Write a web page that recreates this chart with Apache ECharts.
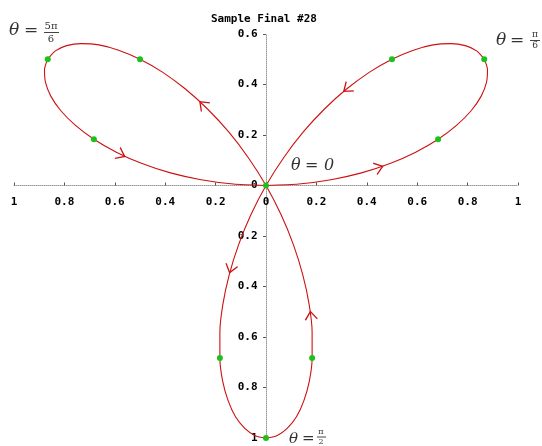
<!DOCTYPE html>
<html>
<head>
<meta charset="utf-8">
<script src="https://cdn.jsdelivr.net/npm/echarts@6/dist/echarts.min.js"></script>
<style>
  html, body { margin: 0; padding: 0; background: #fff; }
  #chart { width: 542px; height: 446px; }
</style>
</head>
<body>
<div id="chart"></div>
<script>
// Three-petal rose traced in 2.5-degree steps of theta: right petal, bottom petal, left petal
const roseX = [
  0, 0.130, 0.258, 0.379, 0.492, 0.594, 0.683, 0.757, 0.814, 0.854, 0.875, 0.879,
  0.866, 0.836, 0.791, 0.733, 0.663, 0.585, 0.5, 0.411, 0.321, 0.233, 0.148, 0.070,
  0, -0.060, -0.109, -0.146, -0.171, -0.183, -0.183, -0.172, -0.150, -0.121, -0.084, -0.043,
  0, 0.043, 0.084, 0.121, 0.150, 0.172, 0.183, 0.183, 0.171, 0.146, 0.109, 0.060,
  0, -0.070, -0.148, -0.233, -0.321, -0.411, -0.5, -0.585, -0.663, -0.733, -0.791, -0.836,
  -0.866, -0.879, -0.875, -0.854, -0.814, -0.757, -0.683, -0.594, -0.492, -0.379, -0.258, -0.130,
  0];
const roseY = [
  0, 0.006, 0.023, 0.050, 0.087, 0.132, 0.183, 0.239, 0.296, 0.354, 0.408, 0.458,
  0.5, 0.533, 0.554, 0.562, 0.557, 0.536, 0.5, 0.449, 0.383, 0.304, 0.212, 0.110,
  0, -0.116, -0.235, -0.354, -0.470, -0.581, -0.683, -0.775, -0.853, -0.916, -0.962, -0.991,
  -1, -0.991, -0.962, -0.916, -0.853, -0.775, -0.683, -0.581, -0.470, -0.354, -0.235, -0.116,
  0, 0.110, 0.212, 0.304, 0.383, 0.449, 0.5, 0.536, 0.557, 0.562, 0.554, 0.533,
  0.5, 0.458, 0.408, 0.354, 0.296, 0.239, 0.183, 0.132, 0.087, 0.050, 0.023, 0.006,
  0];

// Highlighted sample points
const dotX = [0, 0.683, 0.866, 0.5, -0.183, 0, 0.183, -0.5, -0.866, -0.683];
const dotY = [0, 0.183, 0.5, 0.5, -0.683, -1, -0.683, 0.5, 0.5, 0.183];

// Direction markers along the curve: position and heading (degrees)
const arrowX = [0.448, 0.321, -0.251, -0.575, -0.140, 0.178];
const arrowY = [0.071, 0.383, 0.321, 0.122, -0.330, -0.515];
const arrowHeading = [19, 219, 136, -26, -106, 97];

// Tick values; labels show magnitudes
const xTicks = [-1, -0.8, -0.6, -0.4, -0.2, 0, 0.2, 0.4, 0.6, 0.8, 1];
const yTicks = [-1, -0.8, -0.6, -0.4, -0.2, 0, 0.2, 0.4, 0.6];

const chart = echarts.init(document.getElementById('chart'), null, { renderer: 'canvas' });

const red = '#cc1111';
const mono = '"DejaVu Sans Mono", monospace';
const serif = '"DejaVu Serif", "Liberation Serif", serif';

function mathLabel(items) {
  return items.map(function (t) {
    return {
      type: 'text',
      x: t.x, y: t.y,
      style: {
        text: t.text,
        font: (t.italic ? 'italic ' : '') + t.size + 'px ' + serif,
        fill: '#333',
        textAlign: t.align || 'left',
        textVerticalAlign: 'middle'
      }
    };
  });
}
function bar(x1, x2, y) {
  return { type: 'line', shape: { x1: x1, y1: y, x2: x2, y2: y }, style: { stroke: '#444', lineWidth: 1 } };
}

const graphics = [].concat(
  mathLabel([
    { text: 'θ', x: 9, y: 31, size: 17, italic: true },
    { text: '=', x: 24, y: 31, size: 17 },
    { text: '5π', x: 51, y: 26, size: 10, align: 'center' },
    { text: '6', x: 51, y: 39, size: 10, align: 'center' }
  ]),
  [bar(44, 59, 32.5)],
  mathLabel([
    { text: 'θ', x: 496, y: 41, size: 17, italic: true },
    { text: '=', x: 510, y: 41, size: 17 },
    { text: 'π', x: 535, y: 35, size: 9, align: 'center' },
    { text: '6', x: 535, y: 46, size: 9, align: 'center' }
  ]),
  [bar(530, 540, 40.5)],
  mathLabel([
    { text: 'θ', x: 291, y: 166, size: 16, italic: true },
    { text: '=', x: 305, y: 166, size: 16 },
    { text: '0', x: 324, y: 166, size: 16, italic: true }
  ]),
  mathLabel([
    { text: 'θ', x: 289, y: 439, size: 15, italic: true },
    { text: '=', x: 302, y: 439, size: 15 },
    { text: 'π', x: 321, y: 432, size: 8, align: 'center' },
    { text: '2', x: 321, y: 442, size: 8, align: 'center' }
  ]),
  [bar(317, 326, 437)]
);

const axisCommon = {
  type: 'value',
  interval: 0.2,
  splitLine: { show: false },
  axisLine: { onZero: true, lineStyle: { color: '#9a9a9a', type: 'dotted', width: 1 } },
  axisLabel: { show: false }
};

const tickText = {
  show: true,
  color: '#000',
  opacity: 1,
  fontFamily: mono,
  fontWeight: 'bold',
  fontSize: 11,
  formatter: function (p) {
    const v = p.value[p.value[2]];
    return String(Math.abs(Math.round(v * 10) / 10));
  }
};

chart.setOption({
  animation: false,
  backgroundColor: '#fff',
  title: {
    text: 'Sample Final #28',
    left: 206,
    top: 9,
    textStyle: { fontFamily: mono, fontWeight: 'bold', fontSize: 11, color: '#000' }
  },
  grid: { left: 14, right: 24, top: 34, bottom: 8, outerBoundsMode: 'none' },
  xAxis: Object.assign({}, axisCommon, {
    min: xTicks[0], max: xTicks[xTicks.length - 1],
    axisTick: { show: true, inside: true, length: 3, lineStyle: { color: '#555' } }
  }),
  yAxis: Object.assign({}, axisCommon, {
    min: yTicks[0], max: yTicks[yTicks.length - 1],
    axisTick: { show: true, inside: false, length: 3, lineStyle: { color: '#555' } }
  }),
  graphic: graphics,
  series: [
    {
      type: 'line',
      data: roseX.map(function (x, i) { return [x, roseY[i]]; }),
      smooth: 0.2,
      showSymbol: false,
      lineStyle: { color: red, width: 1.1 },
      z: 2
    },
    {
      type: 'scatter',
      data: arrowX.map(function (x, i) { return { value: [x, arrowY[i]], symbolRotate: arrowHeading[i] }; }),
      symbol: 'path://M0,0 L10,5 L0,10',
      symbolSize: [8, 12],
      itemStyle: { color: 'none', borderColor: red, borderWidth: 1.2, opacity: 1 },
      z: 3
    },
    {
      type: 'scatter',
      data: dotX.map(function (x, i) { return [x, dotY[i]]; }),
      symbol: 'circle',
      symbolSize: 6,
      itemStyle: { color: '#1cc21c', opacity: 1 },
      z: 4
    },
    {
      // x tick labels, hung below the horizontal axis
      type: 'scatter',
      data: xTicks.map(function (v) { return [v, 0, 0]; }),
      symbolSize: 1,
      itemStyle: { color: 'rgba(0,0,0,0)', opacity: 1 },
      label: Object.assign({}, tickText, { position: 'bottom', distance: 11 }),
      silent: true,
      z: 1
    },
    {
      // y tick labels, to the left of the vertical axis
      type: 'scatter',
      data: yTicks.map(function (v) { return [0, v, 1]; }),
      symbolSize: 1,
      itemStyle: { color: 'rgba(0,0,0,0)', opacity: 1 },
      label: Object.assign({}, tickText, { position: 'left', distance: 8 }),
      silent: true,
      z: 1
    }
  ]
});
</script>
</body>
</html>
